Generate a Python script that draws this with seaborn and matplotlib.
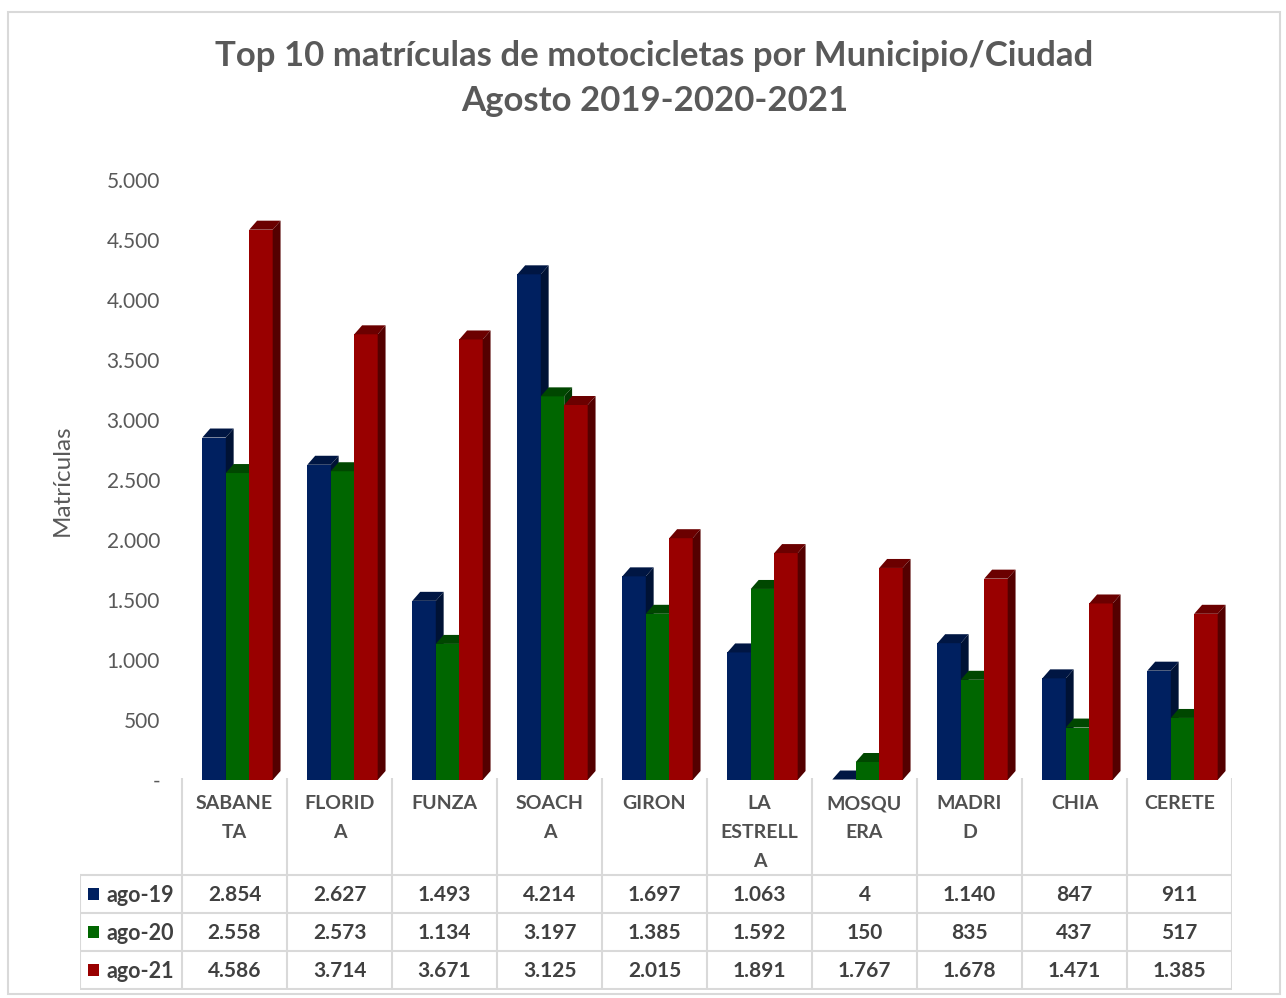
import numpy as np
import pandas as pd
import seaborn as sns
import matplotlib.pyplot as plt
from matplotlib.patches import Polygon, Rectangle
from matplotlib.colors import to_rgb

municipios = ['SABANETA', 'FLORIDA', 'FUNZA', 'SOACHA', 'GIRON',
              'LA ESTRELLA', 'MOSQUERA', 'MADRID', 'CHIA', 'CERETE']
etiquetas = ['SABANE\nTA', 'FLORID\nA', 'FUNZA', 'SOACH\nA', 'GIRON',
             'LA\nESTRELL\nA', 'MOSQU\nERA', 'MADRI\nD', 'CHIA', 'CERETE']
series = ['ago-19', 'ago-20', 'ago-21']
ago19 = [2854, 2627, 1493, 4214, 1697, 1063, 4, 1140, 847, 911]
ago20 = [2558, 2573, 1134, 3197, 1385, 1592, 150, 835, 437, 517]
ago21 = [4586, 3714, 3671, 3125, 2015, 1891, 1767, 1678, 1471, 1385]
colores = ['#002060', '#006600', '#990000']

df = pd.DataFrame({
    'Municipio': municipios * 3,
    'Serie': sum([[s] * len(municipios) for s in series], []),
    'Matriculas': ago19 + ago20 + ago21,
})

def miles(v):
    return f"{v:,}".replace(',', '.')

W, H = 1286, 998
fig = plt.figure(figsize=(W / 100, H / 100), dpi=100)
sns.set_style('white')
plt.rcParams['font.family'] = ['Lato', 'DejaVu Sans']

gris = '#595959'
linea = '#d9d9d9'

# marco del grafico
fig.patches.append(Rectangle((8 / W, 4 / H), 1272 / W, 982 / H, transform=fig.transFigure,
                             fill=False, edgecolor=linea, linewidth=1.5))

ax = fig.add_axes([185 / W, 1 - 780 / H, 1050 / W, (780 - 180) / H])
sns.barplot(data=df, x='Municipio', y='Matriculas', hue='Serie', palette=colores,
            width=0.67, linewidth=0, saturation=1, legend=False, ax=ax)

ax.set_ylim(0, 5000)
ax.set_xlim(-0.5, 9.5)

# efecto 3D: cara superior y lateral
dx, dy = 0.075, 75
n = len(municipios)
for i, p in enumerate(ax.patches):
    k = i // n
    z = 2 + k
    p.set_zorder(z)
    x0, w, h = p.get_x(), p.get_width(), p.get_height()
    c = np.array(to_rgb(p.get_facecolor()))
    top = Polygon([(x0, h), (x0 + dx, h + dy), (x0 + w + dx, h + dy), (x0 + w, h)],
                  closed=True, facecolor=c * 0.7, edgecolor='none', zorder=z, clip_on=False)
    side = Polygon([(x0 + w, 0), (x0 + w, h), (x0 + w + dx, h + dy), (x0 + w + dx, dy)],
                   closed=True, facecolor=c * 0.55, edgecolor='none', zorder=z, clip_on=False)
    ax.add_patch(top)
    ax.add_patch(side)

ax.set_yticks(np.arange(0, 5001, 500))
ax.set_yticklabels(['-' if v == 0 else miles(v) for v in np.arange(0, 5001, 500)],
                   color=gris, fontsize=15)
ax.tick_params(axis='y', length=0, pad=18)
ax.set_xticks([])
ax.set_xlabel('')
ax.set_ylabel('Matrículas', color=gris, fontsize=17.5)
ax.yaxis.set_label_coords(-0.107, 0.5)
sns.despine(ax=ax, left=True, bottom=True)

# tabla de datos
tx = fig.add_axes([80 / W, 1 - 990 / H, (1232 - 80) / W, (990 - 778) / H])
xl = -0.5 - 102 / 105
tx.set_xlim(xl, 9.5)
tx.set_ylim(212, 0)
tx.axis('off')
filas = [97, 135, 173, 211]
for x in np.arange(-0.5, 10, 1.0):
    tx.plot([x, x], [0, 211], color=linea, lw=1.5, solid_capstyle='butt')
tx.plot([xl, xl], [97, 211], color=linea, lw=1.5)
for y in filas:
    tx.plot([xl, 9.5], [y, y], color=linea, lw=1.5)

for j, lab in enumerate(etiquetas):
    tx.text(j, 17, lab, ha='center', va='top', fontsize=14, fontweight='bold',
            color='#505050', linespacing=1.85)

datos = [ago19, ago20, ago21]
for r, (s, vals, col) in enumerate(zip(series, datos, colores)):
    yc = (filas[r] + filas[r + 1]) / 2
    tx.add_patch(Rectangle((xl + 0.08, yc - 6), 0.105, 12, facecolor=col, edgecolor='none'))
    tx.text(xl + 0.25, yc + 1, s, ha='left', va='center', fontsize=15.5,
            fontweight='bold', color='#404040')
    for j, v in enumerate(vals):
        tx.text(j, yc + 1, miles(v), ha='center', va='center', fontsize=15,
                fontweight='bold', color='#404040')

fig.text(0.509, 1 - 56 / H, 'Top 10 matrículas de motocicletas por Municipio/Ciudad',
         ha='center', va='center', fontsize=25, fontweight='bold', color=gris)
fig.text(0.509, 1 - 101 / H, 'Agosto 2019-2020-2021',
         ha='center', va='center', fontsize=25, fontweight='bold', color=gris)

fig.savefig('out.png', dpi=100, facecolor='white')
